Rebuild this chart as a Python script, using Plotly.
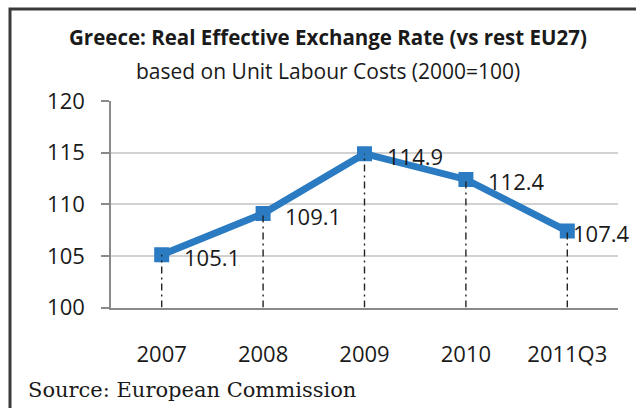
import plotly.graph_objects as go

# Greece REER based on unit labour costs (2000 = 100)
periods = ["2007", "2008", "2009", "2010", "2011Q3"]
reer = [105.1, 109.1, 114.9, 112.4, 107.4]
label_shift = [20, 20, 20, 20, 4]

y_ticks = [100, 105, 110, 115, 120]

W, H = 636, 408


def px_x(v):
    return v / W


def px_y(v):
    return 1 - v / H


LINE_BLUE = "#2A7BC2"
TEXT = "#1a1a1a"
FONT = "Open Sans"

fig = go.Figure()

fig.add_trace(go.Scatter(
    x=list(range(len(periods))), y=reer, mode="lines+markers",
    line=dict(color=LINE_BLUE, width=7),
    marker=dict(symbol="square", size=15, color=LINE_BLUE),
    showlegend=False,
))

# dash-dot drop lines from each point down to the baseline
for i, v in enumerate(reer):
    fig.add_trace(go.Scatter(
        x=[i, i], y=[y_ticks[0], v], mode="lines",
        line=dict(color="#222222", width=1.4, dash="7px,4px,2px,4px"),
        hoverinfo="skip", showlegend=False,
    ))

annotations = []
for i, (v, s) in enumerate(zip(reer, label_shift)):
    annotations.append(dict(
        x=i, y=v, xref="x", yref="y", text=f"{v:.1f}", showarrow=False,
        xanchor="left", yanchor="middle", xshift=s, yshift=-2,
        font=dict(family=FONT, size=22, color=TEXT),
    ))

annotations += [
    dict(x=px_x(328), y=px_y(37), xref="paper", yref="paper",
         text="<b>Greece: Real Effective Exchange Rate (vs rest EU27)</b>",
         showarrow=False, xanchor="center", yanchor="middle",
         font=dict(family=FONT, size=20.5, color=TEXT)),
    dict(x=px_x(328), y=px_y(71), xref="paper", yref="paper",
         text="based on Unit Labour Costs (2000=100)",
         showarrow=False, xanchor="center", yanchor="middle",
         font=dict(family=FONT, size=21, color=TEXT)),
    dict(x=px_x(26), y=px_y(390), xref="paper", yref="paper",
         text="Source: European Commission",
         showarrow=False, xanchor="left", yanchor="middle",
         font=dict(family="DejaVu Serif", size=21, color=TEXT)),
]

# outer frame: left and top edges
shapes = [dict(
    type="path", xref="paper", yref="paper",
    path=f"M {px_x(10)} {px_y(H + 5)} L {px_x(10)} {px_y(9)} L {px_x(W + 5)} {px_y(9)}",
    line=dict(color="#3a3a3a", width=3),
)]

fig.update_layout(
    width=W, height=H, autosize=False,
    margin=dict(l=0, r=0, t=0, b=0, autoexpand=False),
    paper_bgcolor="white", plot_bgcolor="white",
    annotations=annotations, shapes=shapes,
    xaxis=dict(
        domain=[px_x(111), px_x(618)],
        range=[-0.5, 4.5],
        tickvals=list(range(len(periods))), ticktext=periods,
        showline=True, linecolor="#8a8a8a", linewidth=1.5,
        showgrid=False, ticks="", zeroline=False, automargin=False,
        tickfont=dict(family=FONT, size=22, color=TEXT),
        ticklabelstandoff=26,
    ),
    yaxis=dict(
        domain=[px_y(307.5), px_y(101)],
        range=[100, 120], tickvals=y_ticks,
        showline=True, linecolor="#8a8a8a", linewidth=1.5,
        showgrid=True, gridcolor="#d2d2d2", gridwidth=1.5,
        ticks="outside", ticklen=8, tickcolor="#8a8a8a", tickwidth=1.5,
        zeroline=False, automargin=False,
        tickfont=dict(family=FONT, size=22, color=TEXT),
        ticklabelstandoff=12,
    ),
)

fig.write_html("out.html")
